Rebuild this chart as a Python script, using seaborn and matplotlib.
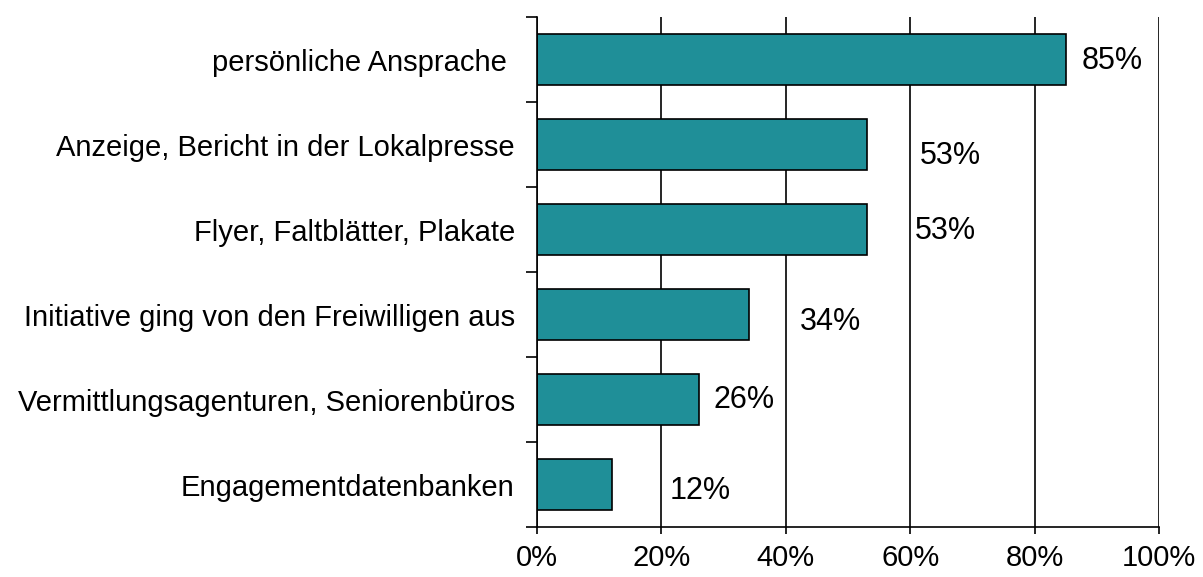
import matplotlib
matplotlib.use("Agg")
import matplotlib.pyplot as plt
from matplotlib.ticker import FixedLocator, PercentFormatter
import seaborn as sns
import pandas as pd

# ─── Data ────────────────────────────────────────────────────────────────────
categories = [
    "persönliche Ansprache ",
    "Anzeige, Bericht in der Lokalpresse",
    "Flyer, Faltblätter, Plakate",
    "Initiative ging von den Freiwilligen aus",
    "Vermittlungsagenturen, Seniorenbüros",
    "Engagementdatenbanken",
]
shares = [85, 53, 53, 34, 26, 12]
value_labels = ["85%", "53%", "53%", "34%", "26%", "12%"]

# label placement tweaks (x in percentage points, y in category units)
label_dx = [2.5, 8.5, 7.8, 8.2, 2.4, 9.3]
label_dy = [0.02, 0.14, 0.02, 0.09, 0.0, 0.08]

TEAL = "#1F8F98"

df = pd.DataFrame({"Kanal": categories, "Anteil": shares})

sns.set_style("ticks")
plt.rcParams["font.family"] = ["Liberation Sans", "DejaVu Sans"]
plt.rcParams["text.color"] = "black"
plt.rcParams["xtick.color"] = "black"
plt.rcParams["ytick.color"] = "black"

fig = plt.figure(figsize=(12.03, 5.77), dpi=100, facecolor="white")
ax = fig.add_axes([0.4464, 0.0866, 0.5172, 0.8839])

sns.barplot(data=df, y="Kanal", x="Anteil", orient="h", color=TEAL,
            width=0.6, edgecolor="black", linewidth=1.2, saturation=1, ax=ax)

for i, (v, lab) in enumerate(zip(shares, value_labels)):
    ax.text(v + label_dx[i], i + label_dy[i], lab, ha="left", va="center",
            fontsize=22, color="black")

ax.set_xlim(0, 100)
ax.set_ylim(len(categories) - 0.5, -0.5)
ax.xaxis.set_major_locator(FixedLocator([0, 20, 40, 60, 80, 100]))
ax.xaxis.set_major_formatter(PercentFormatter(decimals=0))
ax.xaxis.grid(True, color="black", linewidth=1.2)
ax.yaxis.grid(False)
ax.set_axisbelow(True)

ax.yaxis.set_minor_locator(FixedLocator([i - 0.5 for i in range(len(categories) + 1)]))
ax.tick_params(axis="y", which="major", length=0, pad=16, labelsize=21,
               labelcolor="black")
ax.tick_params(axis="y", which="minor", length=8, width=1.2, color="black")
ax.tick_params(axis="x", which="major", length=5, width=1.2, color="black",
               labelsize=21, pad=7, labelcolor="black")

for side in ["top", "right"]:
    ax.spines[side].set_visible(False)
for side in ["left", "bottom"]:
    ax.spines[side].set_color("black")
    ax.spines[side].set_linewidth(1.2)

ax.set_xlabel("")
ax.set_ylabel("")

plt.savefig("out.png", dpi=100, facecolor="white")
plt.close()
